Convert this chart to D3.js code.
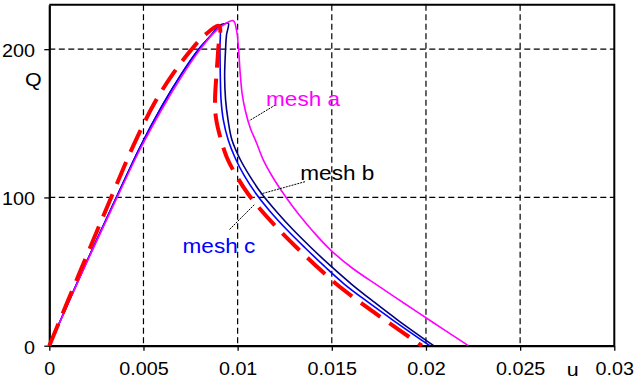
<!DOCTYPE html>
<html>
<head>
<meta charset="utf-8">
<script src="https://cdn.jsdelivr.net/npm/d3@7"></script>
<style>
  html, body { margin: 0; padding: 0; background: #fff; }
  svg { display: block; }
</style>
</head>
<body>
<svg id="chart" width="634" height="384"></svg>
<script>
// Axis ticks
const uTicks = [0, 0.005, 0.01, 0.015, 0.02, 0.025, 0.03];
const uTickLabels = ["0", "0.005", "0.01", "0.015", "0.02", "0.025", "0.03"];
const qTicks = [0, 100, 200];
const qTickLabels = ["0", "100", "200"];

// mesh a: load Q against displacement u
const meshA_u = [0, 0.0018, 0.0036, 0.0048, 0.006, 0.007, 0.0079, 0.0087, 0.0093, 0.00977,
  0.00994, 0.01005, 0.01013, 0.01024, 0.01042, 0.01067, 0.011, 0.01136, 0.01189, 0.01252,
  0.01323, 0.01403, 0.01494, 0.01608, 0.01747, 0.0189, 0.02034, 0.02225];
const meshA_Q = [0, 51, 100, 132, 160, 181, 198, 210.5, 216.8, 219.2,
  212.9, 199.9, 184.9, 169.9, 158, 146.9, 136.9, 125.3, 113.1, 101,
  88.8, 76.7, 64.5, 52.4, 40.3, 28.1, 16, 0];

// mesh b
const meshB_u = [0, 0.0018, 0.0036, 0.0048, 0.006, 0.007, 0.0079, 0.0086, 0.00903, 0.0093, 0.00951,
  0.00941, 0.00936, 0.00931, 0.00936, 0.00949, 0.0097, 0.0101, 0.01064, 0.01129, 0.01208,
  0.01296, 0.01392, 0.01494, 0.01604, 0.01724, 0.0185, 0.02041];
const meshB_Q = [0, 51.5, 101, 133.5, 162, 183, 199.5, 209.5, 215.9, 217.2, 217.5,
  209.6, 200, 181.5, 165.8, 152.3, 138.7, 126.6, 114.5, 102.3, 90.2,
  78, 65.9, 53.8, 41.6, 29.5, 17.3, 0];

// mesh c
const meshC_u = [0, 0.0018, 0.0036, 0.0048, 0.006, 0.007, 0.0079, 0.0086, 0.00903,
  0.00906, 0.00908, 0.00912, 0.00924, 0.0095, 0.00987, 0.01036, 0.01099, 0.01175,
  0.01263, 0.01359, 0.01459, 0.01566, 0.01691, 0.01824, 0.0202];
const meshC_Q = [0, 51.5, 101, 133.5, 162, 183, 199.5, 209.5, 215.9,
  200, 181.5, 165.8, 152.3, 138.7, 126.6, 114.5, 102.3, 90.2,
  78, 65.9, 53.8, 41.6, 29.5, 17.3, 0];

// unlabelled red dashed curve
const dashed_u = [0, 0.0017, 0.0033, 0.0045, 0.0056, 0.0066, 0.0075, 0.0083, 0.00902,
  0.00897, 0.00888, 0.0088, 0.00885, 0.00912, 0.00944, 0.00994, 0.01056, 0.01133, 0.01221,
  0.01316, 0.01417, 0.01524, 0.01648, 0.01782, 0.01978];
const dashed_Q = [0, 52, 100.5, 136, 164, 184, 199, 210, 215.7,
  200, 183.7, 165.7, 153.6, 138.7, 126.6, 114.5, 102.3, 90.2, 78,
  65.9, 53.8, 41.6, 29.5, 17.3, 0];

const svg = d3.select("#chart");
const FONT = "'Liberation Sans', Arial, Helvetica, sans-serif";
const SX = 1.13; // horizontal text stretch

const x = d3.scaleLinear().domain([0, 0.03]).range([49.3, 614.3]);
const y = d3.scaleLinear().domain([0, 230]).range([345.7, 4.7]);

// Grid
const grid = svg.append("g")
  .attr("stroke", "#000").attr("stroke-width", 1.2)
  .attr("stroke-dasharray", "6,3.5").attr("fill", "none");
uTicks.filter(d => d > 0 && d < 0.03).forEach(d => {
  grid.append("line").attr("x1", x(d)).attr("x2", x(d)).attr("y1", y(230)).attr("y2", y(0));
});
qTicks.filter(d => d > 0).forEach(d => {
  grid.append("line").attr("x1", x(0)).attr("x2", x(0.03)).attr("y1", y(d)).attr("y2", y(d));
});

// Top and right border
svg.append("path")
  .attr("d", `M${x(0)},${y(230)}H${x(0.03)}V${y(0)}`)
  .attr("fill", "none").attr("stroke", "#000").attr("stroke-width", 2);

// Axes
const xAxis = svg.append("g")
  .attr("transform", `translate(0,${y(0)})`)
  .call(d3.axisBottom(x).tickValues(uTicks).tickFormat((d, i) => uTickLabels[i]).tickSize(5).tickSizeOuter(0));
const yAxis = svg.append("g")
  .attr("transform", `translate(${x(0)},0)`)
  .call(d3.axisLeft(y).tickValues(qTicks).tickFormat((d, i) => qTickLabels[i]).tickSize(5).tickSizeOuter(0));

[xAxis, yAxis].forEach(g => {
  g.attr("font-family", FONT).attr("font-size", 17.5);
  g.select(".domain").attr("stroke", "#000").attr("stroke-width", 2.2);
  g.selectAll(".tick line").attr("stroke", "#000").attr("stroke-width", 1.3);
  g.selectAll(".tick text").attr("fill", "#000");
});
xAxis.selectAll(".tick text")
  .attr("y", 29.3).attr("dy", null).attr("x", 0)
  .attr("transform", `scale(${SX},1)`);
yAxis.selectAll(".tick text")
  .attr("x", -14.3 / SX).attr("y", 7.5).attr("dy", null)
  .attr("transform", `scale(${SX},1)`);

// Axis titles
function stretchedText(tx, ty, str, size, color, anchor) {
  svg.append("text")
    .attr("transform", `translate(${tx},${ty}) scale(${SX},1)`)
    .attr("font-family", FONT).attr("font-size", size)
    .attr("fill", color).attr("text-anchor", anchor)
    .text(str);
}
stretchedText(33.4, 85.5, "Q", 19, "#000", "middle");
stretchedText(572.8, 376, "u", 19, "#000", "middle");

// Curves
const line = d3.line()
  .x(d => x(d[0])).y(d => y(d[1]))
  .curve(d3.curveCatmullRom.alpha(0.5));
const zip = (us, qs) => us.map((u, i) => [u, qs[i]]);

const series = [
  { data: zip(meshB_u, meshB_Q), color: "#000080", width: 1.6, dash: null },
  { data: zip(meshC_u, meshC_Q), color: "#0000ff", width: 1.6, dash: null },
  { data: zip(meshA_u, meshA_Q), color: "#ff00ff", width: 1.6, dash: null },
  { data: zip(dashed_u, dashed_Q), color: "#ff0000", width: 4, dash: "24,11" }
];
series.forEach(s => {
  svg.append("path")
    .attr("d", line(s.data))
    .attr("fill", "none")
    .attr("stroke", s.color)
    .attr("stroke-width", s.width)
    .attr("stroke-dasharray", s.dash)
    .attr("stroke-linejoin", "round");
});

// Curve labels with leader lines
const leaders = svg.append("g")
  .attr("stroke", "#000").attr("stroke-width", 1).attr("stroke-dasharray", "2,1");
leaders.append("line").attr("x1", 275.3).attr("y1", 105).attr("x2", 249.3).attr("y2", 120.7);
leaders.append("line").attr("x1", 305).attr("y1", 181.7).attr("x2", 260.7).attr("y2", 194);
leaders.append("line").attr("x1", 229.5).attr("y1", 229.5).attr("x2", 255).attr("y2", 204);

stretchedText(266, 106, "mesh a", 20, "#ff00ff", "start");
stretchedText(300.3, 180, "mesh b", 20, "#000", "start");
stretchedText(182.5, 253.3, "mesh c", 20, "#0000ff", "start");
</script>
</body>
</html>
